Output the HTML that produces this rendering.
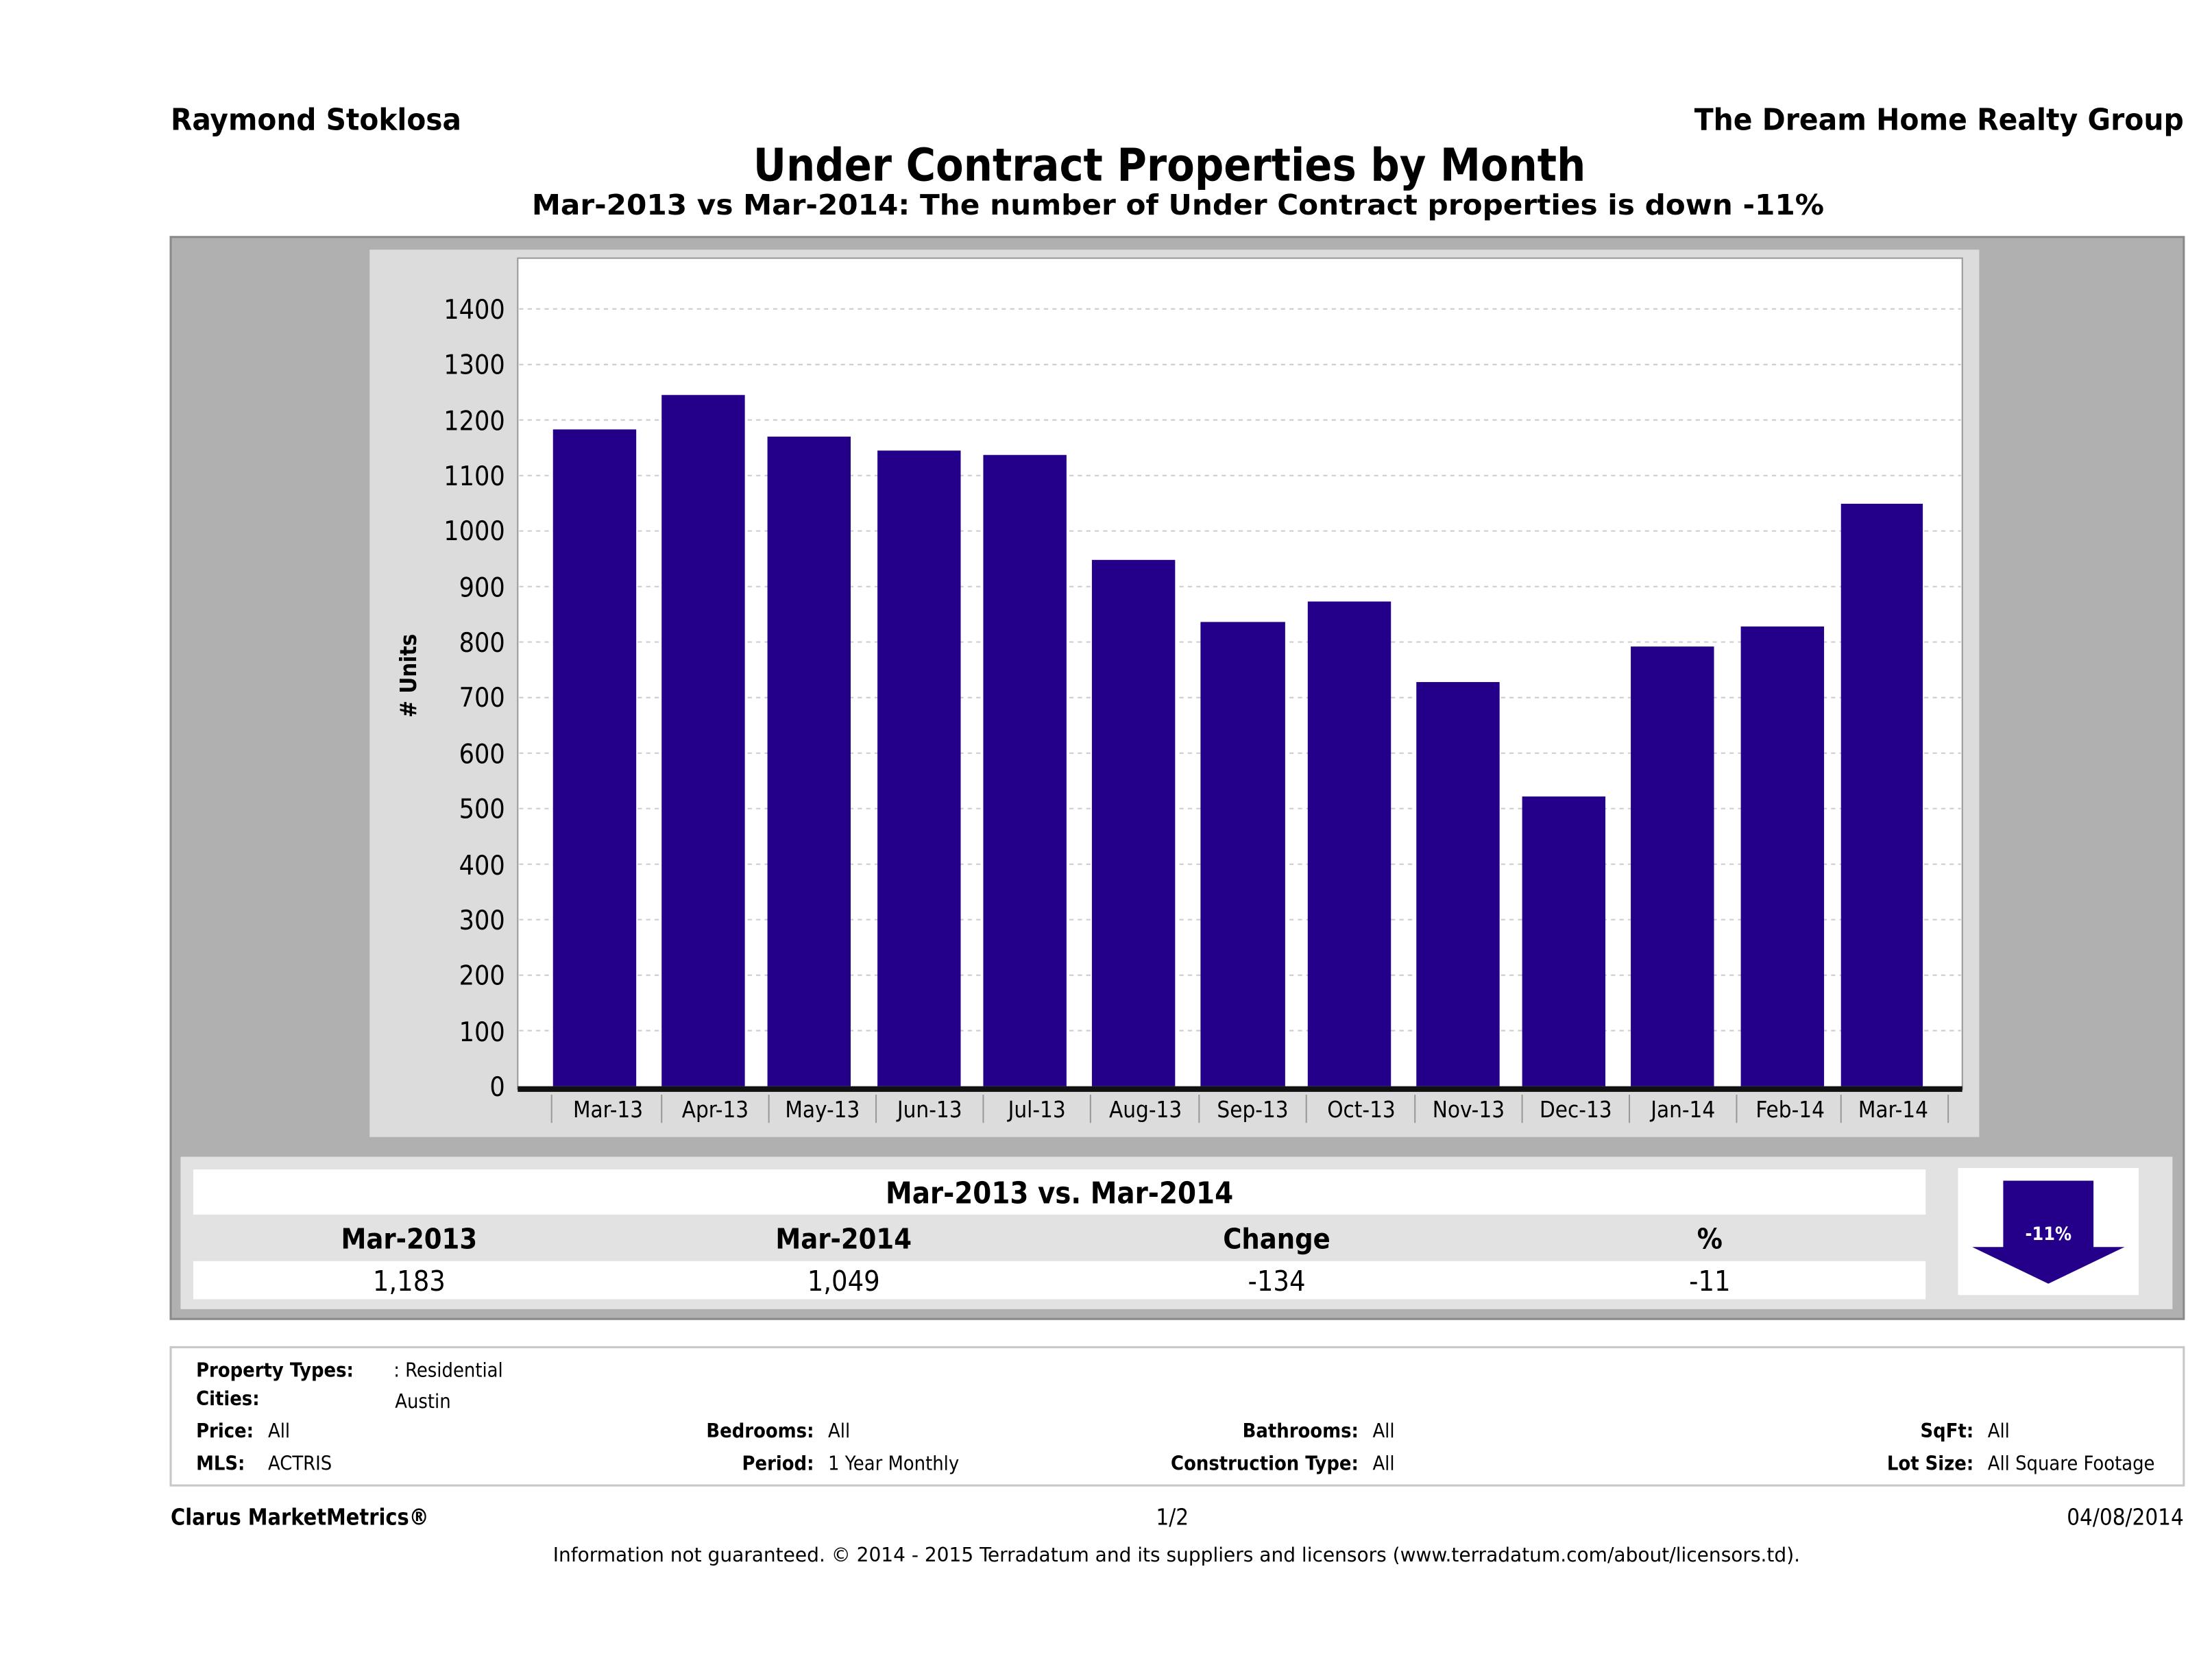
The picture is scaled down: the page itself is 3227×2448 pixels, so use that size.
<!DOCTYPE html>
<html><head><meta charset="utf-8"><style>
html,body{margin:0;padding:0;background:#fff;}
svg{display:block;}
text{font-family:"DejaVu Sans Condensed","DejaVu Sans","Liberation Sans",sans-serif;fill:#000;}
.b{font-weight:bold;}
</style></head><body>
<svg width="3227" height="2448" viewBox="0 0 1568 1189.5" preserveAspectRatio="none" xmlns="http://www.w3.org/2000/svg">
<rect width="1568" height="1190" fill="#fff"/>
<text x="121" y="92" class="b" font-size="21" textLength="206" lengthAdjust="spacingAndGlyphs">Raymond Stoklosa</text>
<text x="1201" y="92" class="b" font-size="21" textLength="347" lengthAdjust="spacingAndGlyphs">The Dream Home Realty Group</text>
<text x="829" y="128" class="b" font-size="32" text-anchor="middle">Under Contract Properties by Month</text>
<text x="377" y="152" class="b" font-size="20" textLength="916" lengthAdjust="spacingAndGlyphs">Mar-2013 vs Mar-2014: The number of Under Contract  properties is down -11%</text>
<rect x="121" y="168" width="1427" height="767" fill="#b0b0b0" stroke="#8a8a8a" stroke-width="1.5"/>
<rect x="262" y="177" width="1141" height="629" fill="#dcdcdc"/>
<rect x="367" y="183" width="1024" height="589" fill="#fff" stroke="#999" stroke-width="1"/>
<g stroke="#ccc" stroke-width="1" stroke-dasharray="3,3">
<line x1="368" x2="1390" y1="219" y2="219"/><line x1="368" x2="1390" y1="258.4" y2="258.4"/>
<line x1="368" x2="1390" y1="297.7" y2="297.7"/><line x1="368" x2="1390" y1="337.1" y2="337.1"/>
<line x1="368" x2="1390" y1="376.4" y2="376.4"/><line x1="368" x2="1390" y1="415.8" y2="415.8"/>
<line x1="368" x2="1390" y1="455.1" y2="455.1"/><line x1="368" x2="1390" y1="494.5" y2="494.5"/>
<line x1="368" x2="1390" y1="533.9" y2="533.9"/><line x1="368" x2="1390" y1="573.2" y2="573.2"/>
<line x1="368" x2="1390" y1="612.6" y2="612.6"/><line x1="368" x2="1390" y1="651.9" y2="651.9"/>
<line x1="368" x2="1390" y1="691.3" y2="691.3"/><line x1="368" x2="1390" y1="730.6" y2="730.6"/>
</g>
<g font-size="19" text-anchor="end">
<text x="358" y="226">1400</text><text x="358" y="265">1300</text><text x="358" y="305">1200</text>
<text x="358" y="344">1100</text><text x="358" y="383">1000</text><text x="358" y="423">900</text>
<text x="358" y="462">800</text><text x="358" y="501">700</text><text x="358" y="541">600</text>
<text x="358" y="580">500</text><text x="358" y="620">400</text><text x="358" y="659">300</text>
<text x="358" y="698">200</text><text x="358" y="738">100</text><text x="358" y="777">0</text>
</g>
<text transform="translate(295,479) rotate(-90)" class="b" font-size="16" text-anchor="middle"># Units</text>
<g fill="#24008a">
<rect x="392" y="304.4" width="59" height="465.6"/>
<rect x="469" y="280" width="59" height="490"/>
<rect x="544" y="309.5" width="59" height="460.5"/>
<rect x="622" y="319.4" width="59" height="450.6"/>
<rect x="697" y="322.5" width="59" height="447.5"/>
<rect x="774" y="396.9" width="59" height="373.1"/>
<rect x="851" y="440.9" width="60" height="329.1"/>
<rect x="927" y="426.4" width="59" height="343.6"/>
<rect x="1004" y="483.5" width="59" height="286.5"/>
<rect x="1079" y="564.6" width="59" height="205.4"/>
<rect x="1156" y="458.3" width="59" height="311.7"/>
<rect x="1234" y="444.1" width="59" height="325.9"/>
<rect x="1305" y="357.1" width="58" height="412.9"/>
</g>
<rect x="367" y="770" width="1024" height="4" fill="#111"/>
<g stroke="#999" stroke-width="1">
<line x1="391" x2="391" y1="776" y2="796"/><line x1="469" x2="469" y1="776" y2="796"/>
<line x1="545" x2="545" y1="776" y2="796"/><line x1="621" x2="621" y1="776" y2="796"/>
<line x1="697" x2="697" y1="776" y2="796"/><line x1="773" x2="773" y1="776" y2="796"/>
<line x1="850" x2="850" y1="776" y2="796"/><line x1="926" x2="926" y1="776" y2="796"/>
<line x1="1003" x2="1003" y1="776" y2="796"/><line x1="1079" x2="1079" y1="776" y2="796"/>
<line x1="1155" x2="1155" y1="776" y2="796"/><line x1="1231" x2="1231" y1="776" y2="796"/>
<line x1="1305" x2="1305" y1="776" y2="796"/><line x1="1381" x2="1381" y1="776" y2="796"/>
</g>
<g font-size="16" text-anchor="middle">
<text x="431" y="792">Mar-13</text><text x="507" y="792">Apr-13</text><text x="583" y="792">May-13</text>
<text x="659" y="792">Jun-13</text><text x="735" y="792">Jul-13</text><text x="812" y="792">Aug-13</text>
<text x="888" y="792">Sep-13</text><text x="965" y="792">Oct-13</text><text x="1041" y="792">Nov-13</text>
<text x="1117" y="792">Dec-13</text><text x="1193" y="792">Jan-14</text><text x="1269" y="792">Feb-14</text>
<text x="1342" y="792">Mar-14</text>
</g>
<rect x="128" y="820" width="1412" height="108" fill="#e2e2e2"/>
<rect x="137" y="829" width="1228" height="32" fill="#fff"/>
<rect x="137" y="894" width="1228" height="27" fill="#fff"/>
<text x="751" y="853" class="b" font-size="21" text-anchor="middle">Mar-2013 vs. Mar-2014</text>
<g font-size="20" text-anchor="middle">
<text x="290" y="885" class="b">Mar-2013</text><text x="598" y="885" class="b">Mar-2014</text>
<text x="905" y="885" class="b">Change</text><text x="1212" y="885" class="b">%</text>
</g>
<g font-size="20" text-anchor="middle">
<text x="290" y="915">1,183</text><text x="598" y="915">1,049</text>
<text x="905" y="915">-134</text><text x="1212" y="915">-11</text>
</g>
<rect x="1388" y="828" width="128" height="90" fill="#fff"/>
<polygon points="1420,837 1484,837 1484,884 1506,884 1452,910 1398,884 1420,884" fill="#24008a"/>
<text x="1452" y="879" font-size="13" font-weight="bold" text-anchor="middle" style="fill:#fff">-11%</text>
<rect x="121" y="955" width="1427" height="98" fill="#fff" stroke="#c8c8c8" stroke-width="1.5"/>
<g font-size="14">
<text x="139" y="976" class="b">Property Types:</text><text x="279" y="976">: Residential</text>
<text x="139" y="996" class="b">Cities:</text><text x="280" y="998">Austin</text>
<text x="139" y="1019" class="b">Price:</text><text x="190" y="1019">All</text>
<text x="139" y="1042" class="b">MLS:</text><text x="190" y="1042">ACTRIS</text>
<text x="577" y="1019" class="b" text-anchor="end">Bedrooms:</text><text x="587" y="1019">All</text>
<text x="577" y="1042" class="b" text-anchor="end">Period:</text><text x="587" y="1042">1 Year Monthly</text>
<text x="963" y="1019" class="b" text-anchor="end">Bathrooms:</text><text x="973" y="1019">All</text>
<text x="963" y="1042" class="b" text-anchor="end">Construction Type:</text><text x="973" y="1042">All</text>
<text x="1399" y="1019" class="b" text-anchor="end">SqFt:</text><text x="1409" y="1019">All</text>
<text x="1399" y="1042" class="b" text-anchor="end">Lot Size:</text><text x="1409" y="1042">All Square Footage</text>
</g>
<text x="121" y="1081" class="b" font-size="16" textLength="183" lengthAdjust="spacingAndGlyphs">Clarus MarketMetrics®</text>
<text x="831" y="1081" font-size="16" text-anchor="middle">1/2</text>
<text x="1548" y="1081" font-size="16" text-anchor="end">04/08/2014</text>
<text x="392" y="1107" font-size="14" textLength="884" lengthAdjust="spacingAndGlyphs">Information not guaranteed. © 2014 - 2015 Terradatum and its suppliers and licensors (www.terradatum.com/about/licensors.td).</text>
</svg>
</body></html>
